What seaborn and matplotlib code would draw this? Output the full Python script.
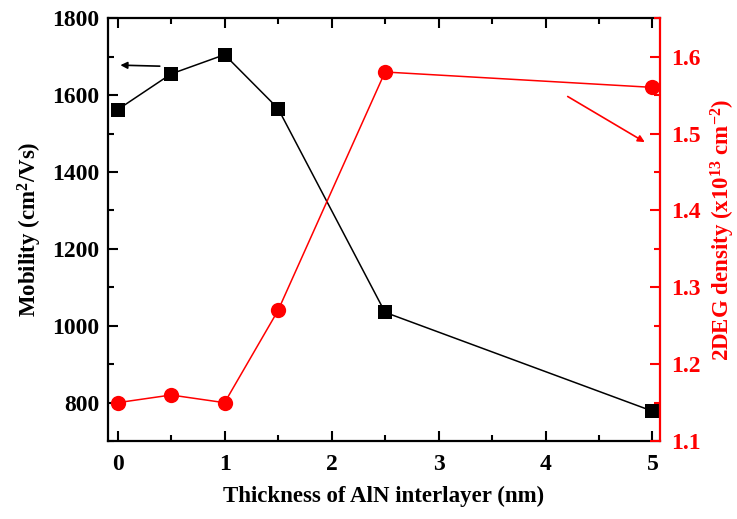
import seaborn as sns
import matplotlib.pyplot as plt
from matplotlib.ticker import MultipleLocator

thickness = [0, 0.5, 1, 1.5, 2.5, 5]
mobility = [1562, 1655, 1705, 1565, 1035, 778]
density = [1.15, 1.16, 1.15, 1.27, 1.58, 1.56]

sns.set_style("white", {'text.color': 'black', 'axes.labelcolor': 'black',
                        'xtick.color': 'black', 'ytick.color': 'black',
                        'axes.edgecolor': 'black'})
plt.rcParams['font.family'] = ['Liberation Serif', 'DejaVu Serif']
plt.rcParams['font.weight'] = 'bold'
plt.rcParams['axes.labelweight'] = 'bold'
plt.rcParams['mathtext.default'] = 'regular'

red = '#ff0000'
fs_tick = 17; fs_lab = 16.5

fig, ax = plt.subplots(figsize=(7.37, 5.19), dpi=100)
fig.subplots_adjust(left=0.1465, right=0.8955, bottom=0.150, top=0.965)
ax2 = ax.twinx()

sns.lineplot(x=thickness, y=mobility, ax=ax, color='black', marker='s',
             markersize=10, markeredgewidth=0, linewidth=1.1, clip_on=False)
sns.lineplot(x=thickness, y=density, ax=ax2, color=red, marker='o',
             markersize=11, markeredgewidth=0, linewidth=1.1, clip_on=False)

ax.set_xlim(-0.09, 5.07)
ax.set_ylim(700, 1800)
ax2.set_ylim(1.1, 1.65)

ax.xaxis.set_major_locator(MultipleLocator(1))
ax.xaxis.set_minor_locator(MultipleLocator(0.5))
ax.yaxis.set_major_locator(MultipleLocator(200))
ax.yaxis.set_minor_locator(MultipleLocator(100))
ax2.yaxis.set_major_locator(MultipleLocator(0.1))
ax2.yaxis.set_minor_locator(MultipleLocator(0.05))

for a in (ax, ax2):
    for s in a.spines.values():
        s.set_linewidth(1.6)
        s.set_color('black')
ax.spines['right'].set_visible(False)
ax2.spines['left'].set_visible(False)
ax2.spines['top'].set_visible(False)
ax2.spines['bottom'].set_visible(False)
ax2.spines['right'].set_color(red)

ax.tick_params(axis='both', which='both', direction='in', width=1.5, colors='black',
               labelsize=fs_tick, top=True, left=True, bottom=True, right=False)
ax.tick_params(which='major', length=7)
ax.tick_params(which='minor', length=4)
ax.tick_params(axis='x', which='both', pad=9)
ax.tick_params(axis='x', which='both', labeltop=False)
ax.tick_params(axis='y', pad=6)
ax2.tick_params(axis='y', which='both', direction='in', width=1.5, colors=red,
                labelsize=fs_tick, pad=8)
ax2.tick_params(which='major', length=7)
ax2.tick_params(which='minor', length=4)

ax.set_xlabel('Thickness of AlN interlayer (nm)', fontsize=fs_lab, labelpad=8,
              color='black')
ax.set_ylabel('Mobility (cm$^2$/Vs)', fontsize=fs_lab, labelpad=6, color='black')
ax2.set_ylabel('2DEG density (x10$^{13}$ cm$^{-2}$)', fontsize=fs_lab, color=red,
               rotation=90, labelpad=6)

ax.annotate('', xy=(0.0, 1678), xytext=(0.42, 1675),
            arrowprops=dict(arrowstyle='-|>', color='black', lw=1.2,
                            mutation_scale=10))
ax2.annotate('', xy=(4.95, 1.487), xytext=(4.185, 1.55),
             arrowprops=dict(arrowstyle='-|>', color=red, lw=1.2,
                             mutation_scale=10))

fig.savefig('out.png', dpi=100)
